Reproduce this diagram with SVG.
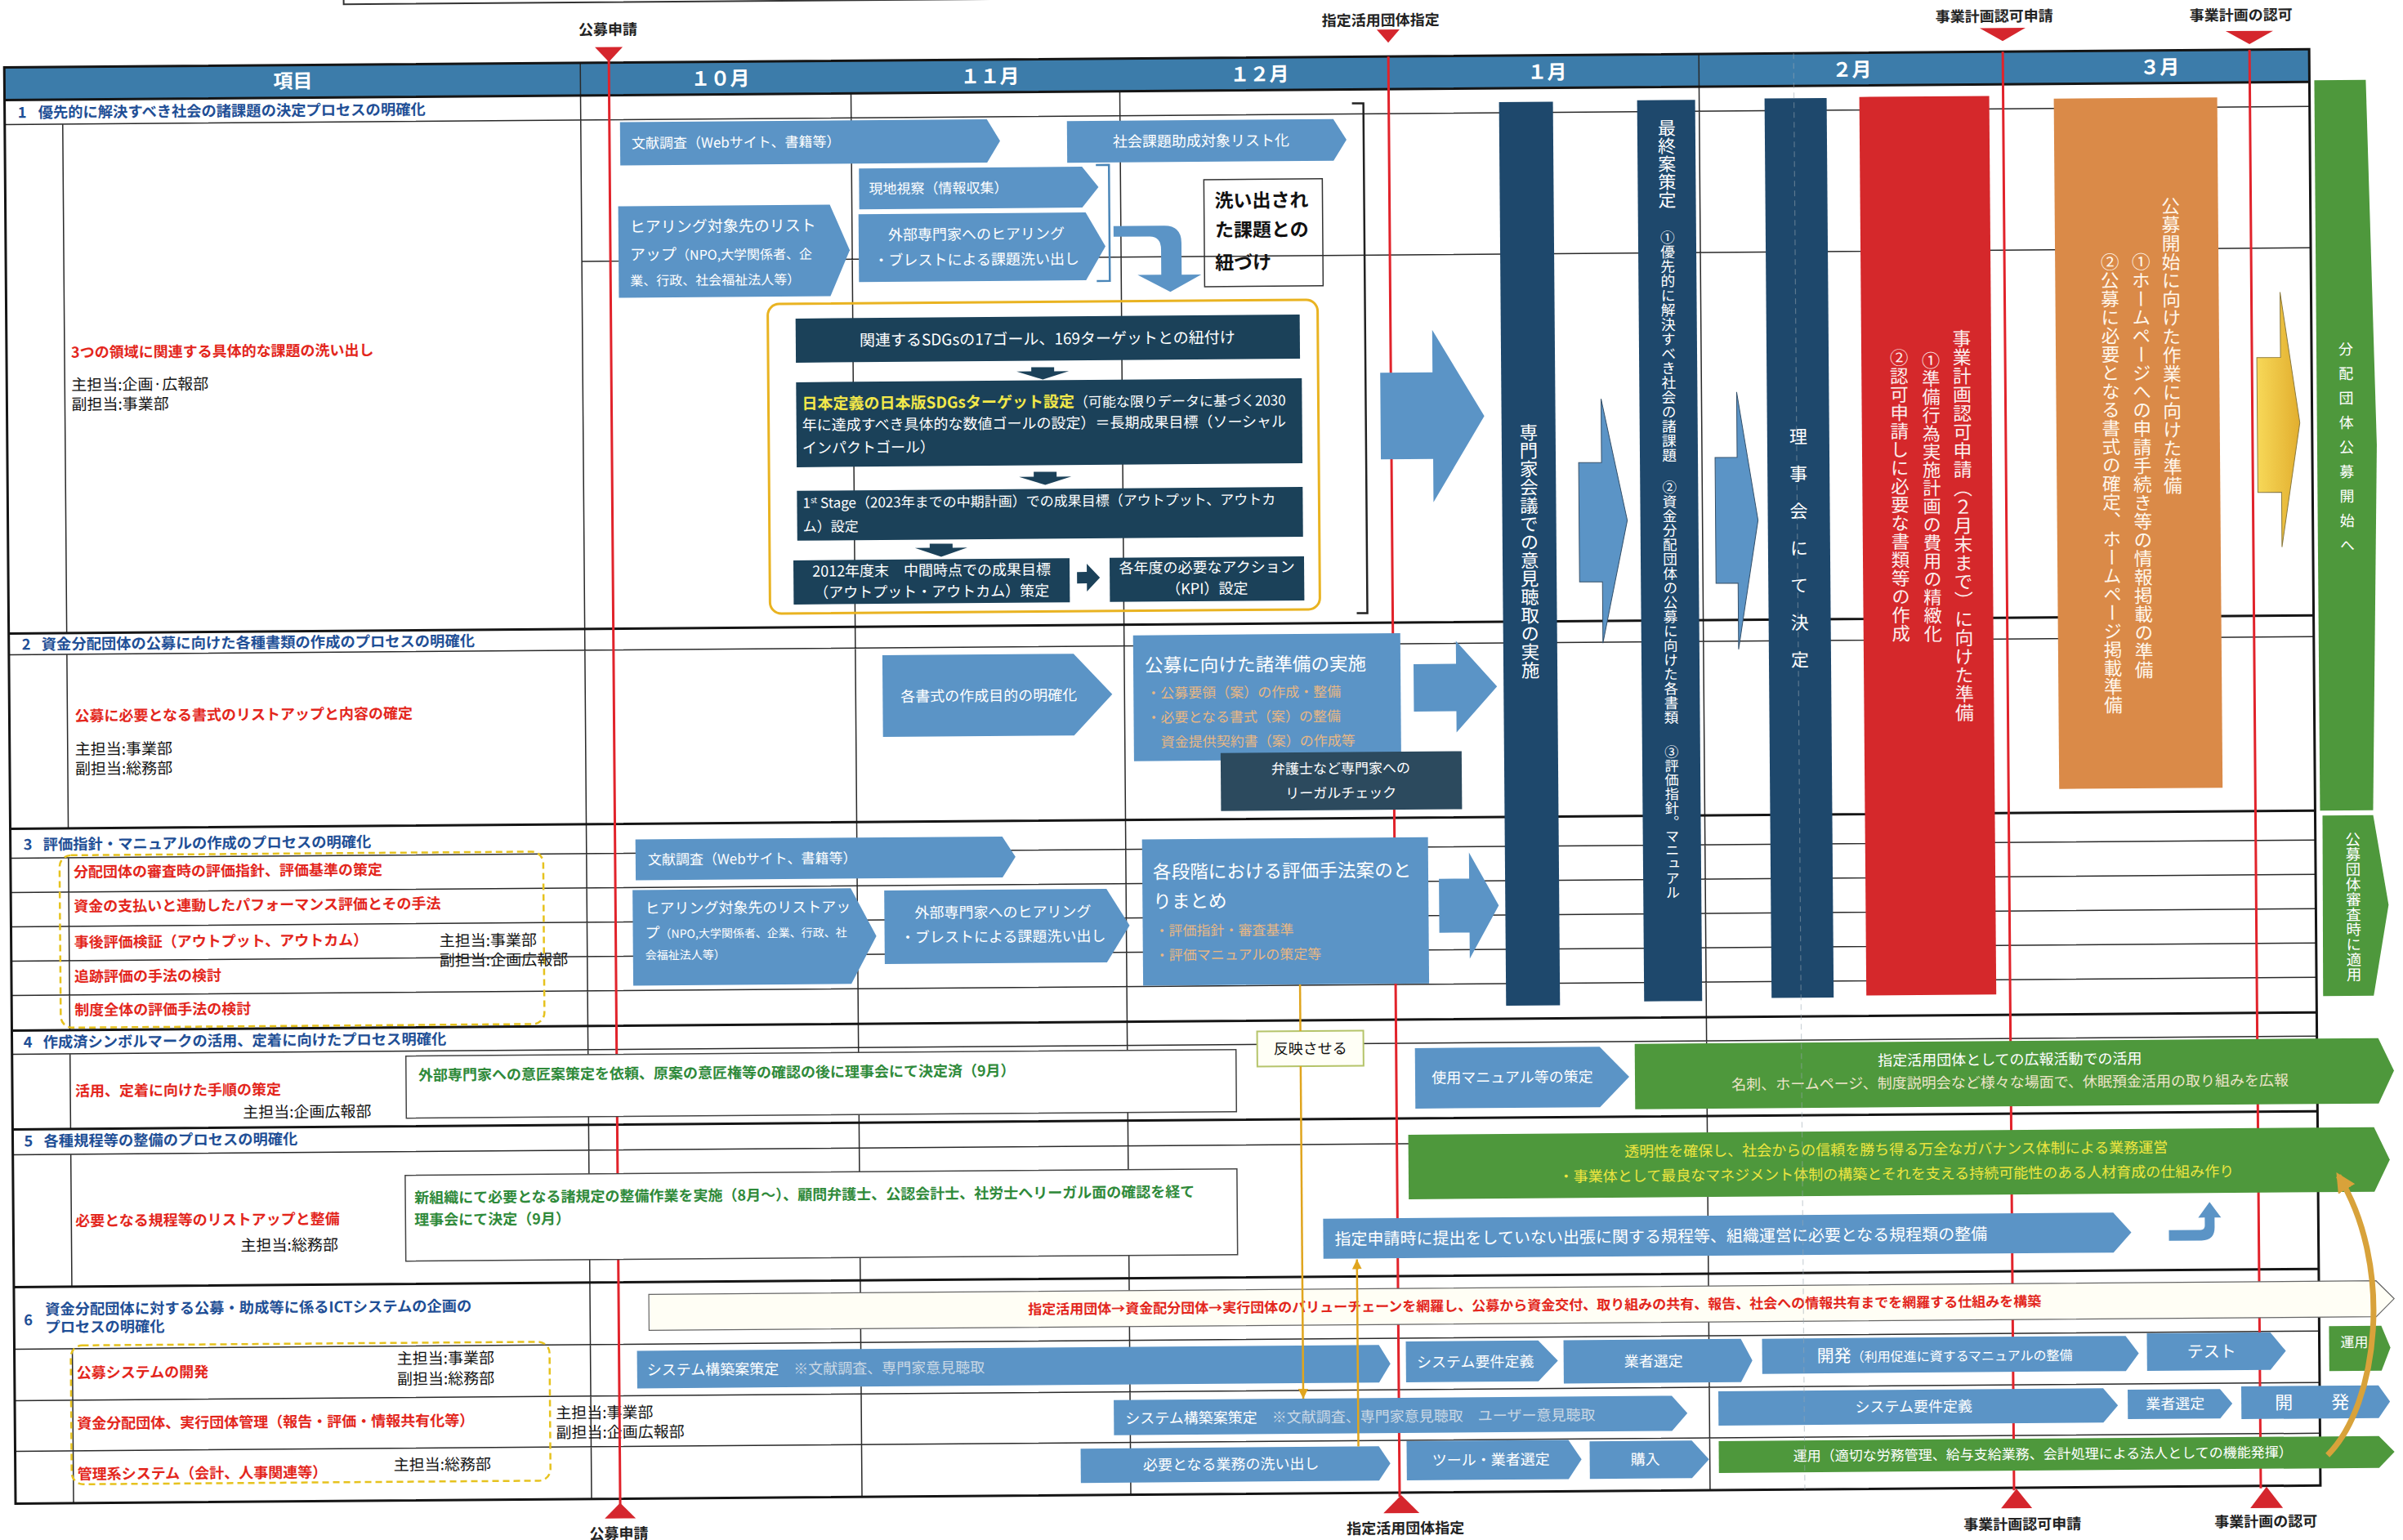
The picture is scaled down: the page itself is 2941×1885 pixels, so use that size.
<svg xmlns="http://www.w3.org/2000/svg" width="2941" height="1885" viewBox="0 0 2941 1885">
<defs>
<style>
text{font-family:"Noto Sans CJK JP","Noto Sans CJK SC","Noto Sans",sans-serif}
.ln{stroke:#2a2a2a;stroke-width:1.5;fill:none}
.tk{stroke:#151515;stroke-width:3;fill:none}
.lb{fill:#5b94c6}
.nv{fill:#1e486c}
.dk{fill:#1b4159}
.gr{fill:#4e983c}
.wt{fill:#fff}
.ttl{fill:#1f4f96;font-weight:bold;font-size:18.3px}
.rd{fill:#e3261c;font-weight:bold;font-size:18px}
.bk{fill:#151515;font-size:19px}
.gt{fill:#2f8a3a;font-weight:bold;font-size:18px}
.tan{fill:#e8b784;font-size:17px}
.note{fill:#c9d7e4}
.vt{writing-mode:vertical-rl}
.rl{stroke:#e1232b;stroke-width:3}
.mk{fill:#d5262d}
.mkl{font-weight:bold;font-size:18px;fill:#222;text-anchor:middle}
.c{text-anchor:middle}
.hd{fill:#fff;font-weight:bold;font-size:24px;text-anchor:middle}
</style>
<linearGradient id="yg" x1="0" y1="0" x2="1" y2="0"><stop offset="0" stop-color="#f7d858"/><stop offset="1" stop-color="#e2ae2e"/></linearGradient>
<marker id="ay" viewBox="0 0 10 10" refX="10" refY="5" markerWidth="12" markerHeight="12" markerUnits="userSpaceOnUse" orient="auto"><path d="M0,0 L10,5 L0,10 Z" fill="#e0a51e"/></marker>
<marker id="ao" viewBox="0 0 10 10" refX="8" refY="5" markerWidth="24" markerHeight="24" markerUnits="userSpaceOnUse" orient="auto"><path d="M0,0 L10,5 L0,10 Z" fill="#d8a23a"/></marker>
</defs>
<rect x="0" y="0" width="2941" height="1885" fill="#fff"/>
<g transform="rotate(-0.45 1470 940)">

<rect x="428" y="-60" width="2390" height="57" fill="none" stroke="#333" stroke-width="2"/>

<g id="grid">
<rect x="12" y="71" width="2821" height="40" fill="#3c7caa"/>
<path class="ln" d="M12,141H2833 M717,314H2833 M12,790H2833 M12,1039H2833 M12,1081H2833 M12,1123H2833 M12,1165H2833 M12,1207H2833 M12,1279H2833 M12,1402H2833 M12,1640H2833 M12,1703H2833 M12,1765H2833 M83,141V764 M83,790V1003 M83,1039V1250 M83,1279V1371 M83,1402V1564 M83,1640V1829 M717,71V1829 M1048,111V1829 M1377,111V1829 M2086,71V1829"/>
<path class="tk" d="M12,111H2833 M12,764H2833 M12,1003H2833 M12,1250H2833 M12,1371H2833 M12,1564H2833"/>
<rect x="12" y="71" width="2821" height="1758" class="tk"/>
<text x="365" y="99" class="hd" font-size="22">項目</text>
<text x="888" y="100" class="hd">１０月</text>
<text x="1218" y="100" class="hd">１１月</text>
<text x="1548" y="100" class="hd">１２月</text>
<text x="1900" y="100" class="hd">１月</text>
<text x="2273" y="100" class="hd">２月</text>
<text x="2650" y="100" class="hd">３月</text>
</g>

<g id="items">
<text x="28" y="133" class="ttl">1</text><text x="53" y="133" class="ttl">優先的に解決すべき社会の諸課題の決定プロセスの明確化</text>
<text x="91" y="427" class="rd">3つの領域に関連する具体的な課題の洗い出し</text>
<text x="91" y="467" class="bk">主担当:企画·広報部</text>
<text x="91" y="491" class="bk">副担当:事業部</text>

<text x="28" y="784" class="ttl">2</text><text x="52" y="784" class="ttl">資金分配団体の公募に向けた各種書類の作成のプロセスの明確化</text>
<text x="92" y="872" class="rd">公募に必要となる書式のリストアップと内容の確定</text>
<text x="92" y="913" class="bk">主担当:事業部</text>
<text x="92" y="937" class="bk">副担当:総務部</text>

<text x="28" y="1029" class="ttl">3</text><text x="52" y="1029" class="ttl">評価指針・マニュアルの作成のプロセスの明確化</text>
<rect x="72" y="1036" width="592" height="211" rx="14" fill="none" stroke="#e6c21e" stroke-width="2.5" stroke-dasharray="8 5"/>
<text x="89" y="1063" class="rd">分配団体の審査時の評価指針、評価基準の策定</text>
<text x="89" y="1105" class="rd">資金の支払いと連動したパフォーマンス評価とその手法</text>
<text x="89" y="1149" class="rd">事後評価検証（アウトプット、アウトカム）</text>
<text x="89" y="1191" class="rd">追跡評価の手法の検討</text>
<text x="89" y="1232" class="rd">制度全体の評価手法の検討</text>
<text x="536" y="1151" class="bk">主担当:事業部</text>
<text x="536" y="1175" class="bk">副担当:企画広報部</text>

<text x="26" y="1271" class="ttl">4</text><text x="50" y="1271" class="ttl">作成済シンボルマークの活用、定着に向けたプロセス明確化</text>
<text x="89" y="1331" class="rd">活用、定着に向けた手順の策定</text>
<text x="294" y="1359" class="bk">主担当:企画広報部</text>

<text x="26" y="1392" class="ttl">5</text><text x="50" y="1392" class="ttl">各種規程等の整備のプロセスの明確化</text>
<text x="88" y="1490" class="rd">必要となる規程等のリストアップと整備</text>
<text x="290" y="1522" class="bk">主担当:総務部</text>

<text x="24" y="1611" class="ttl">6</text>
<text x="50" y="1598" class="ttl">資金分配団体に対する公募・助成等に係るICTシステムの企画の</text>
<text x="50" y="1620" class="ttl">プロセスの明確化</text>
<rect x="81" y="1636" width="586" height="170" rx="14" fill="none" stroke="#e6c21e" stroke-width="2.5" stroke-dasharray="8 5"/>
<text x="88" y="1676" class="rd">公募システムの開発</text>
<text x="480" y="1662" class="bk">主担当:事業部</text>
<text x="480" y="1687" class="bk">副担当:総務部</text>
<text x="88" y="1738" class="rd">資金分配団体、実行団体管理（報告・評価・情報共有化等）</text>
<text x="674" y="1730" class="bk">主担当:事業部</text>
<text x="674" y="1754" class="bk">副担当:企画広報部</text>
<text x="88" y="1800" class="rd">管理系システム（会計、人事関連等）</text>
<text x="475" y="1792" class="bk">主担当:総務部</text>
</g>

<g id="milestones">
<path class="rl" d="M752,66V1836 M1706,71V1834 M2458,71V1832 M2760,71V1832"/>
<polygon class="mk" points="735,52 769,52 752,70"/>
<polygon class="mk" points="1692,38 1720,38 1706,54"/>
<polygon class="mk" points="2430,42 2486,42 2458,58"/>
<polygon class="mk" points="2731,48 2789,48 2760,64"/>
<text x="751" y="37" class="mkl">公募申請</text>
<text x="1697" y="33" class="mkl">指定活用団体指定</text>
<text x="2448" y="34" class="mkl">事業計画認可申請</text>
<text x="2750" y="35" class="mkl">事業計画の認可</text>
<polygon class="mk" points="733,1853 771,1853 752,1834"/>
<polygon class="mk" points="1686,1854 1730,1854 1708,1832"/>
<polygon class="mk" points="2442,1854 2480,1854 2461,1830"/>
<polygon class="mk" points="2747,1856 2787,1856 2767,1830"/>
<text x="750" y="1878" class="mkl">公募申請</text>
<text x="1713" y="1879" class="mkl">指定活用団体指定</text>
<text x="2468" y="1880" class="mkl">事業計画認可申請</text>
<text x="2766" y="1879" class="mkl">事業計画の認可</text>
</g>

<!-- Row 1 -->
<g id="r1-sdgs-group"><rect x="944" y="368" width="673" height="379" rx="14" fill="none" stroke="#e9b321" stroke-width="3"/></g>
<g id="r1-bunken">
<path class="lb" d="M765,144 L1214,144 L1230,170.5 L1214,197 L765,197 Z"/>
<text x="779" y="176" class="wt" font-size="17">文献調査（Webサイト、書籍等）</text>
</g>
<g id="r1-list">
<path class="lb" d="M1312,147 L1638,147 L1654,172.5 L1638,198 L1312,198 Z"/>
<text x="1476" y="179" class="wt c" font-size="18">社会課題助成対象リスト化</text>
</g>
<g id="r1-genchi">
<path class="lb" d="M1057,203 L1330,203 L1350,228 L1330,253 L1057,253 Z"/>
<text x="1069" y="234" class="wt" font-size="17">現地視察（情報収集）</text>
</g>
<g id="r1-hearing">
<path class="lb" d="M1056,259 L1334,259 L1358,300.5 L1334,342 L1056,342 Z"/>
<text x="1200" y="291" class="wt c" font-size="18">外部専門家へのヒアリング</text>
<text x="1200" y="322" class="wt c" font-size="18">・ブレストによる課題洗い出し</text>
</g>
<g id="r1-target">
<path class="lb" d="M762,247 L1021,247 L1045,303 L1021,359 L762,359 Z"/>
<text x="776" y="279" class="wt" font-size="19">ヒアリング対象先のリスト</text>
<text x="776" y="313" class="wt" font-size="19">アップ<tspan font-size="16">（NPO,大学関係者、企</tspan></text>
<text x="776" y="344" class="wt" font-size="16">業、行政、社会福祉法人等）</text>
</g>
<g id="r1-link">
<rect x="1479" y="220" width="145" height="131" fill="none" stroke="#333" stroke-width="1.5"/>
<text x="1492" y="254" font-size="23" font-weight="bold" fill="#111">洗い出され</text>
<text x="1492" y="290" font-size="23" font-weight="bold" fill="#111">た課題との</text>
<text x="1492" y="330" font-size="23" font-weight="bold" fill="#111">紐づけ</text>
</g>
<g id="r1-sdg1">
<rect class="dk" x="978" y="386" width="617" height="54"/>
<text x="1286" y="420" class="wt c" font-size="19">関連するSDGsの17ゴール、169ターゲットとの紐付け</text>
</g>
<g id="r1-sdg2">
<rect class="dk" x="978" y="464" width="619" height="104"/>
<text x="985" y="497" font-size="19" font-weight="bold" fill="#f2e84a">日本定義の日本版SDGsターゲット設定<tspan class="wt" font-size="17" font-weight="normal">（可能な限りデータに基づく2030</tspan></text>
<text x="985" y="523" class="wt" font-size="18">年に達成すべき具体的な数値ゴールの設定）＝長期成果目標（ソーシャル</text>
<text x="985" y="551" class="wt" font-size="18">インパクトゴール）</text>
</g>
<g id="r1-sdg3">
<rect class="dk" x="978" y="597" width="619" height="61"/>
<text x="985" y="618" class="wt" font-size="17">1<tspan font-size="10" dy="-6">st</tspan><tspan dy="6"> Stage（2023年までの中期計画）での成果目標（アウトプット、アウトカ</tspan></text>
<text x="985" y="647" class="wt" font-size="17">ム）設定</text>
</g>
<g id="r1-sdg4">
<rect class="dk" x="973" y="682" width="338" height="54"/>
<text x="1142" y="702" class="wt c" font-size="18">2012年度末　中間時点での成果目標</text>
<text x="1142" y="728" class="wt c" font-size="18">（アウトプット・アウトカム）策定</text>
</g>
<g id="r1-sdg5">
<rect class="dk" x="1360" y="682" width="238" height="54"/>
<text x="1479" y="701" class="wt c" font-size="18">各年度の必要なアクション</text>
<text x="1479" y="727" class="wt c" font-size="18">（KPI）設定</text>
</g>
<g id="r1-expert">
<rect class="nv" x="1841" y="128" width="66" height="1106"/>
<text x="1874" y="521" class="wt vt" font-size="22.4">専門家会議での意見聴取の実施</text>
</g>
<g id="r1-final">
<rect class="nv" x="2010" y="127" width="71" height="1103"/>
<text x="2046" y="150" class="wt vt" font-size="22">最終案策定</text>
<text x="2046" y="286" class="wt vt" font-size="17.8">①優先的に解決すべき社会の諸課題</text>
<text x="2046" y="592" class="wt vt" font-size="17.6">②資金分配団体の公募に向けた各書類</text>
<text x="2046" y="916" class="wt vt" font-size="17.2">③評価指針。マニュアル</text>
</g>
<g id="r1-board">
<rect class="nv" x="2166" y="126" width="76" height="1101"/>
<text x="2204" y="529" class="wt vt" font-size="22" letter-spacing="23.5">理事会にて決定</text>
</g>
<g id="r1-apply">
<rect x="2282" y="125" width="159" height="1100" fill="#d5282b"/>
<text x="2405" y="410" class="vt" font-size="22.9" fill="#fcecec">事業計画認可申請（２月末まで）に向けた準備</text>
<text x="2367" y="437" class="vt" font-size="22.3" fill="#fcecec">①準備行為実施計画の費用の精緻化</text>
<text x="2328" y="433" class="vt" font-size="22.5" fill="#fcecec">②認可申請しに必要な書類等の作成</text>
</g>
<g id="r1-open">
<rect x="2520" y="129" width="200" height="845" fill="#da8a48"/>
<text x="2662" y="250" class="vt" font-size="22.8" fill="#fff6ea">公募開始に向けた作業に向けた準備</text>
<text x="2625" y="318" class="vt" font-size="22.7" fill="#fff6ea">①ホームページへの申請手続き等の情報掲載の準備</text>
<text x="2587" y="318" class="vt" font-size="22.6" fill="#fff6ea">②公募に必要となる書式の確定、ホームページ掲載準備</text>
</g>
<g id="side-start">
<path class="gr" d="M2839,109 L2902,109 L2912,556 L2904,1003 L2839,1003 Z"/>
<text x="2875" y="429" class="wt vt" font-size="18" letter-spacing="12">分配団体公募開始へ</text>
</g>
<g id="side-review">
<path class="gr" d="M2842,1009 L2904,1009 L2922,1119 L2903,1230 L2841,1230 Z"/>
<text x="2879" y="1029" class="wt vt" font-size="18.4">公募団体審査時に適用</text>
</g>

<!-- Row 2 -->
<g id="r2-purpose">
<path class="lb" d="M1081,799 L1315,799 L1362,849 L1315,899 L1081,899 Z"/>
<text x="1211" y="856" class="wt c" font-size="18">各書式の作成目的の明確化</text>
</g>
<g id="r2-prep">
<rect class="lb" x="1388" y="777" width="327" height="154"/>
<text x="1402" y="822" class="wt" font-size="22.6">公募に向けた諸準備の実施</text>
<text x="1404" y="854" class="tan">・公募要領（案）の作成・整備</text>
<text x="1404" y="884" class="tan">・必要となる書式（案）の整備</text>
<text x="1421" y="914" class="tan">資金提供契約書（案）の作成等</text>
</g>
<g id="r2-legal">
<rect x="1494" y="922" width="295" height="71" fill="#2c4a5e"/>
<text x="1641" y="948" class="wt c" font-size="17">弁護士など専門家への</text>
<text x="1641" y="978" class="wt c" font-size="17">リーガルチェック</text>
</g>

<!-- Row 3 -->
<g id="r3-bunken">
<path class="lb" d="M777,1022 L1226,1022 L1242,1047 L1226,1072 L777,1072 Z"/>
<text x="792" y="1053" class="wt" font-size="17">文献調査（Webサイト、書籍等）</text>
</g>
<g id="r3-target">
<path class="lb" d="M773,1084 L1040,1084 L1071,1142.5 L1040,1201 L773,1201 Z"/>
<text x="788" y="1113" class="wt" font-size="18">ヒアリング対象先のリストアッ</text>
<text x="788" y="1143" class="wt" font-size="18">プ<tspan font-size="14">（NPO,大学関係者、企業、行政、社</tspan></text>
<text x="788" y="1169" class="wt" font-size="14">会福祉法人等）</text>
</g>
<g id="r3-hearing">
<path class="lb" d="M1081,1087 L1353,1087 L1381,1132 L1353,1177 L1081,1177 Z"/>
<text x="1226" y="1121" class="wt c" font-size="18">外部専門家へのヒアリング</text>
<text x="1226" y="1151" class="wt c" font-size="18">・ブレストによる課題洗い出し</text>
</g>
<g id="r3-eval">
<rect class="lb" x="1397" y="1027" width="350" height="179"/>
<text x="1410" y="1075" class="wt" font-size="22.6">各段階における評価手法案のと</text>
<text x="1410" y="1111" class="wt" font-size="22.6">りまとめ</text>
<text x="1412" y="1145" class="tan">・評価指針・審査基準</text>
<text x="1412" y="1175" class="tan">・評価マニュアルの策定等</text>
</g>

<!-- Row 4 -->
<g id="r4-done">
<rect x="494" y="1285" width="1016" height="76" fill="#fff" stroke="#444" stroke-width="1.5"/>
<text x="509" y="1315" class="gt">外部専門家への意匠案策定を依頼、原案の意匠権等の確認の後に理事会にて決定済（9月）</text>
</g>
<g id="r4-reflect">
<rect x="1536" y="1263" width="130" height="43" fill="#fffff6" stroke="#b5c46a" stroke-width="2"/>
<text x="1601" y="1291" class="c" font-size="18" fill="#111">反映させる</text>
</g>
<g id="r4-manual">
<path class="lb" d="M1729,1285 L1955,1285 L1991,1322 L1955,1359 L1729,1359 Z"/>
<text x="1848" y="1328" class="wt c" font-size="18">使用マニュアル等の策定</text>
</g>
<g id="r4-pr">
<path class="gr" d="M1998,1282 L2908,1282 L2927,1322 L2908,1362 L1998,1362 Z"/>
<text x="2457" y="1311" class="wt c" font-size="18">指定活用団体としての広報活動での活用</text>
<text x="2457" y="1339" class="c" font-size="18" fill="#ece4c8">名刺、ホームページ、制度説明会など様々な場面で、休眠預金活用の取り組みを広報</text>
</g>

<!-- Row 5 -->
<g id="r5-done">
<rect x="492" y="1431" width="1018" height="105" fill="#fff" stroke="#444" stroke-width="1.5"/>
<text x="503" y="1465" class="gt">新組織にて必要となる諸規定の整備作業を実施（8月～）、顧問弁護士、公認会計士、社労士へリーガル面の確認を経て</text>
<text x="503" y="1492" class="gt">理事会にて決定（9月）</text>
</g>
<g id="r5-governance">
<path class="gr" d="M1720,1391 L2902,1391 L2921,1431 L2902,1470 L1720,1470 Z"/>
<text x="2317" y="1420" class="c" font-size="18" fill="#eee640">透明性を確保し、社会からの信頼を勝ち得る万全なガバナンス体制による業務運営</text>
<text x="2317" y="1450" class="c" font-size="18" fill="#eee640">・事業体として最良なマネジメント体制の構築とそれを支える持続可能性のある人材育成の仕組み作り</text>
</g>
<g id="r5-rules">
<path class="lb" d="M1615,1493 L2582,1493 L2604,1517.5 L2582,1542 L1615,1542 Z"/>
<text x="1629" y="1525" class="wt" font-size="20">指定申請時に提出をしていない出張に関する規程等、組織運営に必要となる規程類の整備</text>
</g>

<!-- Row 6 -->
<g id="r6-chain">
<path d="M789,1579 L2903,1579 L2925,1601 L2903,1623 L789,1623 Z" fill="#fffef5" stroke="#666" stroke-width="1.2"/>
<text x="1873" y="1607" class="c" font-size="17" font-weight="bold" fill="#e3261c">指定活用団体→資金配分団体→実行団体のバリューチェーンを網羅し、公募から資金交付、取り組みの共有、報告、社会への情報共有までを網羅する仕組みを構築</text>
</g>
<g id="r6a-plan">
<path class="lb" d="M774,1648 L1682,1648 L1696,1671 L1682,1694 L774,1694 Z"/>
<text x="786" y="1678" class="wt" font-size="18">システム構築案策定<tspan class="note">　※文献調査、専門家意見聴取</tspan></text>
</g>
<g id="r6a-req">
<path class="lb" d="M1715,1644 L1877,1644 L1901,1669 L1877,1694 L1715,1694 Z"/>
<text x="1800" y="1676" class="wt c" font-size="18">システム要件定義</text>
</g>
<g id="r6a-vendor">
<path class="lb" d="M1908,1644 L2125,1644 L2139,1670.5 L2125,1697 L1908,1697 Z"/>
<text x="2018" y="1677" class="wt c" font-size="18">業者選定</text>
</g>
<g id="r6a-dev">
<path class="lb" d="M2151,1644 L2596,1644 L2612,1665.5 L2596,1687 L2151,1687 Z"/>
<text x="2218" y="1673" class="wt" font-size="21">開発<tspan font-size="16">（利用促進に資するマニュアルの整備</tspan></text>
</g>
<g id="r6a-test">
<path class="lb" d="M2622,1641 L2773,1641 L2792,1664 L2773,1687 L2622,1687 Z"/>
<text x="2701" y="1671" class="wt c" font-size="20">テスト</text>
</g>
<g id="r6a-ops">
<path class="gr" d="M2845,1634 L2909,1634 L2920,1661 L2909,1689 L2845,1689 Z"/>
<text x="2876" y="1660" class="wt c" font-size="17">運用</text>
</g>
<g id="r6b-plan">
<path class="lb" d="M1357,1713 L2040,1713 L2059,1734.5 L2040,1756 L1357,1756 Z"/>
<text x="1371" y="1742" class="wt" font-size="18">システム構築案策定<tspan class="note">　※文献調査、専門家意見聴取　ユーザー意見聴取</tspan></text>
</g>
<g id="r6b-req">
<path class="lb" d="M2097,1708 L2568,1708 L2586,1729 L2568,1750 L2097,1750 Z"/>
<text x="2336" y="1735" class="wt c" font-size="18">システム要件定義</text>
</g>
<g id="r6b-vendor">
<path class="lb" d="M2598,1710 L2711,1710 L2726,1728 L2711,1746 L2598,1746 Z"/>
<text x="2656" y="1734" class="wt c" font-size="18">業者選定</text>
</g>
<g id="r6b-dev">
<path class="lb" d="M2737,1707 L2905,1707 L2919,1727 L2905,1747 L2737,1747 Z"/>
<text x="2789" y="1735" class="wt c" font-size="22">開</text>
<text x="2858" y="1735" class="wt c" font-size="22">発</text>
</g>
<g id="r6c-tasks">
<path class="lb" d="M1316,1772 L1681,1772 L1695,1793 L1681,1814 L1316,1814 Z"/>
<text x="1500" y="1799" class="wt c" font-size="18">必要となる業務の洗い出し</text>
</g>
<g id="r6c-tool">
<path class="lb" d="M1715,1766 L1913,1766 L1929,1790 L1913,1814 L1715,1814 Z"/>
<text x="1818" y="1796" class="wt c" font-size="18">ツール・業者選定</text>
</g>
<g id="r6c-buy">
<path class="lb" d="M1939,1768 L2064,1768 L2085,1791 L2064,1814 L1939,1814 Z"/>
<text x="2007" y="1797" class="wt c" font-size="18">購入</text>
</g>
<g id="r6c-ops">
<path class="gr" d="M2097,1769 L2905,1769 L2924,1788.5 L2905,1808 L2097,1808 Z"/>
<text x="2188" y="1794" class="wt" font-size="17">運用（適切な労務管理、給与支給業務、会計処理による法人としての機能発揮）</text>
</g>

<g id="connectors">
<path d="M1347,201 L1363,201 L1363,343 L1347,343" fill="none" stroke="#4a86b8" stroke-width="2.5"/>
<path class="lb" d="M1368,276 L1430,276 Q1451,276 1451,297 L1451,336 L1475,336 L1437,357 L1397,336 L1426,336 L1426,305 Q1426,289 1412,289 L1368,289 Z"/>
<path d="M1661,128 L1675,128 L1675,752 L1662,752" fill="none" stroke="#222" stroke-width="2.5"/>
<path class="dk" d="M1266,448 L1294,448 L1294,453 L1312,453 L1280,463 L1248,453 L1266,453 Z"/>
<path class="dk" d="M1268,576 L1296,576 L1296,582 L1314,582 L1282,592 L1250,582 L1268,582 Z"/>
<path class="dk" d="M1140,663 L1168,663 L1168,668 L1186,668 L1154,679 L1122,668 L1140,668 Z"/>
<path class="dk" d="M1320,699 L1332,699 L1332,689 L1348,706 L1332,723 L1332,713 L1320,713 Z"/>
<path class="lb" d="M1693,458 L1757,458 L1757,406 L1820,512 L1757,617 L1757,564 L1693,564 Z"/>
<path class="lb" stroke="#34506a" stroke-width="1" d="M1935,570 L1963,570 L1963,492 L1994,641 L1963,791 L1963,716 L1935,716 Z"/>
<path class="lb" stroke="#34506a" stroke-width="1" d="M2102,565 L2129,565 L2129,485 L2154,642 L2129,800 L2129,719 L2102,719 Z"/>
<path fill="url(#yg)" stroke="#8a7a40" stroke-width="1" d="M2766,448 L2795,448 L2795,368 L2818,528 L2795,680 L2795,613 L2766,613 Z"/>
<path class="lb" d="M1731,815 L1783,815 L1783,787 L1833,843 L1783,899 L1783,873 L1731,873 Z"/>
<path class="lb" d="M1760,1078 L1797,1078 L1797,1046 L1833,1111 L1797,1176 L1797,1144 L1760,1144 Z"/>
<path class="lb" d="M2650,1515 L2689,1515 Q2694,1515 2694,1510 L2694,1500 L2686,1500 L2700,1481 L2714,1500 L2706,1500 L2706,1512 Q2706,1528 2690,1528 L2650,1528 Z"/>
<path d="M1589,1206 V1263" stroke="#e0a51e" stroke-width="2.5" fill="none"/>
<path d="M1589,1306 V1713" stroke="#e0a51e" stroke-width="2.5" fill="none" marker-end="url(#ay)"/>
<path d="M1656,1772 V1543" stroke="#e0a51e" stroke-width="2.5" fill="none" marker-end="url(#ay)"/>
<path d="M2842,1792 C2905,1730 2925,1560 2858,1450" stroke="#d8a23a" stroke-width="7" fill="none" marker-end="url(#ao)"/>
</g>

<path d="M2202,71V1829" stroke="#9aa7b2" stroke-width="1.2" stroke-dasharray="7 5" opacity="0.5" fill="none"/>
</g>
</svg>
